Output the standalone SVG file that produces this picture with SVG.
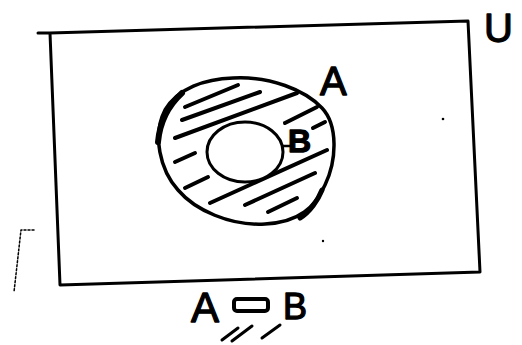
<svg xmlns="http://www.w3.org/2000/svg" width="522" height="345" viewBox="0 0 522 345">
<style>
.ink{fill:none;stroke:#000;stroke-linecap:round;stroke-linejoin:round}
.hatch{fill:none;stroke:#000;stroke-width:4;stroke-linecap:round}
.lbl{font-family:"Liberation Sans","DejaVu Sans",sans-serif;fill:#000;stroke:#000;stroke-width:1.3;stroke-linejoin:round}
</style>
<rect width="522" height="345" fill="#fff"/>
<g id="universe">
<path class="ink" stroke-width="3" d="M38 33 L50 33 L468 21 L480 272 L60 285 L50 33"/>
<text class="lbl" x="484" y="42" font-size="40">U</text>
</g>
<g id="setA">
<path class="ink" stroke-width="3.5" d="M233 78 C270 76 305 90 322 108 C338 125 337 160 325 185 C315 207 300 222 265 224 C230 226 195 210 178 190 C160 170 152 135 165 110 C178 88 205 79 233 78 Z"/>
<path class="ink" stroke-width="6" d="M182 93 C170 104 160 120 158 142"/>
<path class="ink" stroke-width="5" d="M300 218 C310 212 318 200 322 190"/>
<g id="hatching">
<line class="hatch" x1="185" y1="107" x2="238" y2="85"/>
<line class="hatch" x1="182" y1="120" x2="260" y2="92"/>
<line class="hatch" x1="175" y1="138" x2="297" y2="93"/>
<line class="hatch" x1="285" y1="123" x2="317" y2="107"/>
<line class="hatch" x1="313" y1="128" x2="325" y2="122"/>
<line class="hatch" x1="175" y1="162" x2="195" y2="153"/>
<line class="hatch" x1="185" y1="188" x2="208" y2="177"/>
<line class="hatch" x1="210" y1="203" x2="327" y2="150"/>
<line class="hatch" x1="245" y1="205" x2="315" y2="173"/>
<line class="hatch" x1="268" y1="212" x2="297" y2="198"/>
</g>
<text class="lbl" x="320" y="95" font-size="40">A</text>
</g>
<g id="setB">
<ellipse cx="245" cy="152" rx="38" ry="30" fill="#fff" stroke="#000" stroke-width="3"/>
<text class="lbl" x="288" y="152" font-size="32" font-weight="bold">B</text>
</g>
<g id="connectors">
<line class="ink" stroke-width="2.5" x1="283" y1="146" x2="291" y2="146"/>
</g>
<g id="relation">
<text class="lbl" x="191" y="322" font-size="42">A</text>
<rect x="234" y="299" width="34" height="12" rx="3" fill="none" stroke="#000" stroke-width="4"/>
<text class="lbl" x="283" y="319" font-size="36">B</text>
<line class="ink" stroke-width="3" x1="222" y1="340" x2="238" y2="328"/>
<line class="ink" stroke-width="3" x1="232" y1="341" x2="252" y2="326"/>
<line class="ink" stroke-width="3" x1="262" y1="338" x2="280" y2="325"/>
</g>
<g id="marks">
<path class="ink" stroke-width="1.5" stroke-dasharray="2 2" d="M34 230 L21 230 L14 292"/>
<circle cx="443" cy="119" r="1.3" fill="#000"/>
<circle cx="323" cy="241" r="1.2" fill="#000"/>
</g>
</svg>
